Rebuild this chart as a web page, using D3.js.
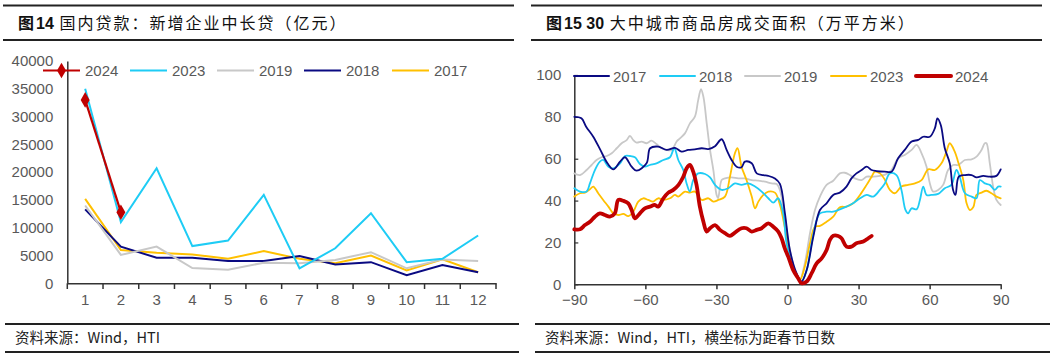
<!DOCTYPE html>
<html>
<head>
<meta charset="utf-8">
<script src="https://cdn.jsdelivr.net/npm/d3@7"></script>
<style>
  body { margin: 0; background: #fff; }
  svg { display: block; }
</style>
</head>
<body>
<script>
const width = 1050, height = 359;

// ---- left chart data (亿元) ----
const months = [1,2,3,4,5,6,7,8,9,10,11,12];
const loan2024 = [33000, 12800];
const loan2023 = [35000, 11000, 20700, 6700, 7700, 15900, 2700, 6300, 12600, 3800, 4400, 8600];
const loan2019 = [14000, 5100, 6600, 2750, 2450, 3700, 3600, 4200, 5600, 2700, 4300, 4000];
const loan2018 = [13300, 6600, 4600, 4600, 4000, 4000, 4900, 3400, 3800, 1450, 3300, 2000];
const loan2017 = [15200, 6000, 5500, 5200, 4400, 5800, 4400, 3600, 5000, 2300, 4300, 2000];
const leftTicks = [0, 5000, 10000, 15000, 20000, 25000, 30000, 35000, 40000];

// ---- right chart data: [距春节日数, 成交面积] ----
const area2017 = [[-90,80],[-87,79.3],[-85,75.3],[-82,70.5],[-79,64.2],[-76,57.8],[-73.5,54.9],[-70.7,58.6],[-68.6,60.7],[-65.8,56.2],[-63.7,54.3],[-59.5,57.8],[-58,65],[-54.6,65.8],[-51,64.2],[-47.5,65.2],[-44.7,63.4],[-41.9,64.2],[-39.1,64.5],[-36.2,65],[-33.4,64.6],[-30.6,66],[-27.8,69.3],[-25.7,64.2],[-23.6,59.4],[-21.5,56.2],[-19.4,55.9],[-18,58.6],[-15.1,57.8],[-13,53],[-10.2,52.2],[-8.1,51.8],[-5.3,50.6],[-3.2,48],[-1.1,34],[1,16.4],[3.8,5.3],[5.9,1.3],[8.1,6.8],[10.9,22.8],[13.7,35.5],[16.5,38.7],[19.3,42.7],[22.1,43.8],[24.9,46.7],[27,50.6],[29.1,53],[31.3,54.6],[33.4,56.2],[35.5,54.6],[37.6,54.1],[41,53.8],[43.9,53.8],[46.7,60.2],[49.5,64.2],[52.4,68.2],[55.2,69],[57.3,70.5],[60.1,70.5],[62.2,74.5],[63.3,79.3],[64.7,76.1],[66.4,65],[68.5,57.8],[69.9,45.1],[70.9,42.7],[72.3,51.4],[74.9,52.2],[77.7,52.2],[79.8,51.1],[82.6,51.8],[85.4,51.4],[88.2,51.8],[90,54.9]];
const area2018 = [[-90,45.9],[-87.6,44.3],[-84.8,44.3],[-83.4,48.2],[-81.3,54.6],[-79.2,58.6],[-77.8,59.4],[-75.6,56.2],[-73.5,55.4],[-70.7,57.8],[-68.6,61.3],[-66.5,61.3],[-64.4,60.7],[-62.3,57.5],[-60.2,56.2],[-58.1,57],[-55.3,57.8],[-52.4,59.4],[-49.6,60.7],[-47.8,65],[-46.1,59.4],[-44,54.6],[-42.6,48.2],[-41.2,44.3],[-39.8,49.8],[-37.7,53],[-34.8,52.7],[-32.7,51.1],[-30.6,47.5],[-27.8,45.1],[-25,45.9],[-22.2,48.2],[-19.4,47.5],[-16.6,48.2],[-13.7,46.7],[-10.9,44.3],[-8.1,41.1],[-6,39],[-3.9,41.1],[-1.8,33.9],[-0.4,19.6],[2.4,8.4],[4.5,2.9],[5.9,1.3],[8.1,6.8],[10.2,19.6],[12.3,30.7],[13.7,33.9],[16.5,34.7],[19.3,34.7],[22.1,35.8],[24.9,37.1],[27.7,38.7],[30.6,41.1],[33.4,42.7],[36.2,41.9],[39,45.1],[41.1,48.2],[43.2,53],[46,52.2],[48.1,45.1],[49.8,35.5],[50.9,33.9],[52.4,36.3],[54.5,35.8],[55.9,40.3],[57.3,46.7],[58.7,42.7],[60.8,42.7],[63.6,43.2],[66.4,45.9],[69.2,47.5],[71.3,54.6],[72.7,51.4],[74.9,43.5],[77.7,41.9],[79.8,41.1],[81.2,49.8],[83.3,48.2],[85.4,47.5],[87.5,45.1],[88.9,46.7],[90,46.7]];
const area2019 = [[-90,53],[-87.6,52.2],[-84.8,54.6],[-82.7,57],[-80.6,59.4],[-78.5,60.7],[-76.3,61.3],[-74.2,62.6],[-72.1,65],[-70,67.4],[-67.9,68.9],[-66.5,70.9],[-65.1,68.9],[-63.7,67.7],[-61.6,68.2],[-59.5,67.4],[-57.4,68.6],[-55.3,67],[-53.1,65],[-51,64.2],[-48.9,64.2],[-46.8,68.2],[-45.4,69.7],[-43.3,72.1],[-41.2,76.9],[-39.1,80.1],[-37.7,88],[-36.5,93.2],[-35.5,89.6],[-34.1,76.9],[-32.7,64.2],[-31.3,54.6],[-29.9,42.5],[-29.3,41.1],[-27.8,49.8],[-26.4,50.6],[-23.6,51.1],[-20.8,50.6],[-18,50.6],[-15.1,49.8],[-12.3,49.5],[-9.5,49],[-6.7,48.2],[-4.6,47.9],[-3.2,45],[-1.1,32],[1,16.4],[3.1,6.8],[5.2,2.1],[7.3,10],[9.5,24.4],[11.6,35.5],[13.7,41.9],[16.5,47.5],[19.3,49.5],[22.1,53],[24.2,53.3],[26.3,52.2],[28.4,50.6],[31.3,49.8],[33.4,51.4],[36.2,51.4],[39,51.8],[41.5,52.5],[43.9,54.6],[46.7,60.2],[49.5,61.8],[52.4,64.2],[54.5,66.6],[56.6,62.6],[58.7,56.2],[60.1,48.2],[61.5,44.3],[63.6,45.1],[65.7,47.5],[67.8,54.6],[69.9,57],[72,57],[74.9,59.4],[77.7,59.7],[79.8,61],[81.9,64.2],[83.3,67.4],[84,67.4],[85.4,57.8],[86.8,46.7],[88.2,40.3],[90,37.9]];
const area2023 = [[-90,41.9],[-87.6,43.5],[-85.5,43.8],[-83.4,45.4],[-82,46.7],[-79.9,43.5],[-77.8,40.3],[-75.6,37.1],[-73.5,33.9],[-71.4,33.1],[-69.3,33.6],[-67.2,32.6],[-65.1,34.7],[-63,39.5],[-60.9,41.1],[-58.8,40.3],[-56.7,39.5],[-54.6,41.1],[-52.4,40.3],[-49.6,41.1],[-47.5,42.7],[-46.1,41.9],[-43.3,44.3],[-41.2,43.8],[-39.1,44.3],[-36.2,40.3],[-33.4,41.1],[-31.3,39.5],[-29.2,40.3],[-26.4,41.9],[-24.3,51.4],[-22.2,62.6],[-21.1,65],[-19.4,56.2],[-17.3,49.8],[-15.1,41.9],[-13.7,36.3],[-12.3,39.5],[-10.2,42.7],[-8.1,44.3],[-5.3,43.8],[-3.2,38],[-1.1,27],[1,14.8],[3.1,5.3],[5.2,2.1],[7.3,8.4],[9.5,19.6],[11.6,27.5],[13.7,27.9],[16.5,29.9],[19.3,32.3],[22.1,36.8],[24.9,37.1],[27.7,38.7],[30.6,42.7],[33.4,47.5],[35.5,51.4],[36.9,53.8],[39,53],[41.1,50],[43.2,45.1],[45.3,43.5],[48.1,46.7],[50.9,47.5],[53.8,48.2],[56.6,49.8],[59.4,54.9],[62.2,54.6],[65,57.8],[67.1,63.4],[68.5,67.4],[70.6,63.4],[72,58.6],[74.2,49.8],[75.6,38.7],[77,35.5],[78.4,36.8],[79.8,42.7],[81.9,43.8],[84,44.7],[86.1,43.5],[88.2,41.9],[90,41.1]];
const area2024 = [[-90,26.3],[-87.6,26.3],[-85.5,28.3],[-83.4,29.9],[-81.3,32.3],[-79.2,33.9],[-77.1,33.1],[-75,32.3],[-72.9,33.9],[-71.4,40.3],[-69.3,39.9],[-67.2,38.7],[-65.8,35.5],[-64.4,31.5],[-62.3,33.9],[-60.2,36.3],[-58.1,37.1],[-56,37.9],[-54.6,37.1],[-52.4,41.1],[-50.3,43.8],[-48.2,45.1],[-46,47.5],[-44,51.4],[-42.6,55.4],[-41.2,57],[-39.8,53.8],[-38.4,47.5],[-37,37.1],[-35.5,29.9],[-34.1,25.2],[-32.7,26.8],[-30.6,28.3],[-28.5,26],[-26.4,24.4],[-24.3,23.1],[-22.2,24.7],[-19.4,26.8],[-17.3,26.8],[-15.1,25.2],[-13,26],[-10.9,26.8],[-8.1,29.1],[-6,27.5],[-3.9,25.2],[-2.5,22],[-1.1,17],[0.3,13.2],[2.4,6.8],[4.5,2.9],[5.9,0.5],[8.1,1.3],[10.2,5.3],[12.3,10],[14.4,12.4],[16.5,16.4],[17.9,21.2],[19.3,23.2],[21.4,23.1],[22.8,22],[24.9,18],[27,18],[29.1,19.6],[32,20.4],[34.1,22],[35.5,23.1]];
const rightXTicks = [-90, -60, -30, 0, 30, 60, 90];
const rightYTicks = [0, 20, 40, 60, 80, 100];

const numFont = "'Liberation Sans', Arial, sans-serif";
const cnFont = "'Noto Sans CJK SC', sans-serif";
const labelColor = "#595959";
const axisColor = "#333";

const svg = d3.select("body").append("svg")
    .attr("width", width)
    .attr("height", height);

svg.append("rect").attr("width", width).attr("height", height).attr("fill", "#fff");

// ---- frames: title bars and footers ----
function frame(x0, x1, fx0, fx1, parts, footer) {
  svg.append("line").attr("x1", x0).attr("x2", x1).attr("y1", 5.5).attr("y2", 5.5)
    .attr("stroke", "#222").attr("stroke-width", 2);
  svg.append("line").attr("x1", x0).attr("x2", x1).attr("y1", 40).attr("y2", 40)
    .attr("stroke", "#222").attr("stroke-width", 2);
  const t = svg.append("text")
    .attr("x", x0 + 15).attr("y", 29)
    .attr("font-family", cnFont)
    .attr("font-size", 16)
    .attr("fill", "#111");
  parts.forEach(p => {
    t.append("tspan")
      .attr("font-weight", p.bold ? "bold" : "normal")
      .attr("font-family", p.num ? numFont : cnFont)
      .attr("letter-spacing", p.num ? 0 : 2)
      .attr("dx", p.dx || 0)
      .text(p.text);
  });
  svg.append("line").attr("x1", fx0).attr("x2", fx1).attr("y1", 324).attr("y2", 324)
    .attr("stroke", "#222").attr("stroke-width", 2);
  svg.append("line").attr("x1", fx0).attr("x2", fx1).attr("y1", 352).attr("y2", 352)
    .attr("stroke", "#222").attr("stroke-width", 2);
  svg.append("text")
    .attr("x", fx0 + 10).attr("y", 343)
    .attr("font-family", cnFont)
    .attr("font-size", 14.5)
    .attr("fill", "#222")
    .text(footer);
}

frame(3, 514, 5, 519, [
  {text: "图", bold: true},
  {text: "14", bold: true, num: true},
  {text: " 国内贷款：新增企业中长贷（亿元）"}
], "资料来源：Wind，HTI");

frame(531, 1042, 535, 1050, [
  {text: "图", bold: true},
  {text: "15 30", bold: true, num: true},
  {text: " 大中城市商品房成交面积（万平方米）"}
], "资料来源：Wind，HTI，横坐标为距春节日数");

// ================= left chart =================
const xL = d3.scaleBand().domain(months).range([67.3, 496]);
const yL = d3.scaleLinear().domain([0, 40000]).range([283.3, 61]);
const gL = svg.append("g");

gL.append("g")
  .attr("transform", "translate(67.3,0)")
  .call(d3.axisLeft(yL).tickValues(leftTicks).tickSize(0).tickPadding(14).tickFormat(d3.format("d")))
  .call(g => g.select(".domain").attr("stroke", axisColor).attr("stroke-width", 1.5))
  .call(g => g.selectAll("text").attr("font-family", numFont).attr("font-size", 15).attr("fill", labelColor));

gL.append("g")
  .attr("transform", "translate(0,283.3)")
  .call(d3.axisBottom(xL).tickSize(0).tickPadding(11))
  .call(g => g.select(".domain").attr("stroke", axisColor).attr("stroke-width", 1.5))
  .call(g => g.selectAll("text").attr("font-family", numFont).attr("font-size", 15).attr("fill", labelColor));

// tick marks at band edges
const edges = months.map(m => xL(m)).concat([xL.range()[1]]);
gL.selectAll(".edge").data(edges).join("line")
  .attr("x1", d => d).attr("x2", d => d)
  .attr("y1", 283.3).attr("y2", 289)
  .attr("stroke", axisColor).attr("stroke-width", 1.5);

const lineL = d3.line()
  .x((d, i) => xL(months[i]) + xL.bandwidth() / 2)
  .y(d => yL(d));

const leftSeries = [
  {name: "2017", data: loan2017, color: "#FFC000", w: 2},
  {name: "2018", data: loan2018, color: "#0A0A82", w: 2},
  {name: "2019", data: loan2019, color: "#C8C8C8", w: 2},
  {name: "2023", data: loan2023, color: "#1ECCF5", w: 2},
  {name: "2024", data: loan2024, color: "#C00000", w: 2.2}
];

leftSeries.forEach(s => {
  gL.append("path")
    .attr("d", lineL(s.data))
    .attr("fill", "none")
    .attr("stroke", s.color)
    .attr("stroke-width", s.w);
});

const diamond = d3.symbol().type(d3.symbolDiamond).size(70);
gL.selectAll(".dia").data(loan2024).join("path")
  .attr("d", diamond)
  .attr("transform", (d, i) => `translate(${xL(months[i]) + xL.bandwidth() / 2},${yL(d)})`)
  .attr("fill", "#C00000");

// left legend
const legL = [
  {name: "2024", color: "#C00000", x: 43, marker: true},
  {name: "2023", color: "#1ECCF5", x: 130},
  {name: "2019", color: "#C8C8C8", x: 217},
  {name: "2018", color: "#0A0A82", x: 304},
  {name: "2017", color: "#FFC000", x: 392}
];
legL.forEach(l => {
  gL.append("line")
    .attr("x1", l.x).attr("x2", l.x + 37).attr("y1", 70.5).attr("y2", 70.5)
    .attr("stroke", l.color).attr("stroke-width", 2.2);
  if (l.marker) {
    gL.append("path").attr("d", diamond)
      .attr("transform", `translate(${l.x + 18.5},70.5)`)
      .attr("fill", l.color);
  }
  gL.append("text")
    .attr("x", l.x + 42).attr("y", 76)
    .attr("font-family", numFont).attr("font-size", 15)
    .attr("fill", labelColor)
    .text(l.name);
});

// ================= right chart =================
const xR = d3.scaleLinear().domain([-90, 90]).range([574.3, 1000.7]);
const yR = d3.scaleLinear().domain([0, 100]).range([284.3, 75]);
const gR = svg.append("g");

gR.append("g")
  .attr("transform", "translate(574.3,0)")
  .call(d3.axisLeft(yR).tickValues(rightYTicks).tickSizeInner(-4).tickSizeOuter(0).tickPadding(13))
  .call(g => g.select(".domain").attr("stroke", axisColor).attr("stroke-width", 1.5))
  .call(g => g.selectAll(".tick line").attr("stroke", axisColor).attr("stroke-width", 1.2))
  .call(g => g.selectAll("text").attr("font-family", numFont).attr("font-size", 15).attr("fill", labelColor));

gR.append("g")
  .attr("transform", "translate(0,284.3)")
  .call(d3.axisBottom(xR).tickValues(rightXTicks).tickSizeInner(5).tickSizeOuter(0).tickPadding(5))
  .call(g => g.select(".domain").attr("stroke", axisColor).attr("stroke-width", 1.5))
  .call(g => g.selectAll(".tick line").attr("stroke", axisColor).attr("stroke-width", 1.5))
  .call(g => g.selectAll("text").attr("font-family", numFont).attr("font-size", 15).attr("fill", labelColor));

const lineR = d3.line()
  .x(d => xR(d[0]))
  .y(d => yR(d[1]))
  .curve(d3.curveCatmullRom.alpha(0.5));

const rightSeries = [
  {name: "2019", data: area2019, color: "#C8C8C8", w: 1.8},
  {name: "2023", data: area2023, color: "#FFC000", w: 1.8},
  {name: "2018", data: area2018, color: "#1ECCF5", w: 1.8},
  {name: "2017", data: area2017, color: "#0A0A82", w: 1.8},
  {name: "2024", data: area2024, color: "#C00000", w: 3.8}
];

rightSeries.forEach(s => {
  gR.append("path")
    .attr("d", lineR(s.data))
    .attr("fill", "none")
    .attr("stroke", s.color)
    .attr("stroke-width", s.w)
    .attr("stroke-linejoin", "round")
    .attr("stroke-linecap", "round");
});

// right legend
const legR = [
  {name: "2017", color: "#0A0A82", x: 574, w: 2},
  {name: "2018", color: "#1ECCF5", x: 660, w: 2},
  {name: "2019", color: "#C8C8C8", x: 745, w: 2},
  {name: "2023", color: "#FFC000", x: 831, w: 2},
  {name: "2024", color: "#C00000", x: 916, w: 4}
];
legR.forEach(l => {
  gR.append("line")
    .attr("x1", l.x).attr("x2", l.x + 35).attr("y1", 76).attr("y2", 76)
    .attr("stroke", l.color).attr("stroke-width", l.w)
    .attr("stroke-linecap", "round");
  gR.append("text")
    .attr("x", l.x + 39).attr("y", 81.5)
    .attr("font-family", numFont).attr("font-size", 15)
    .attr("fill", labelColor)
    .text(l.name);
});
</script>
</body>
</html>
